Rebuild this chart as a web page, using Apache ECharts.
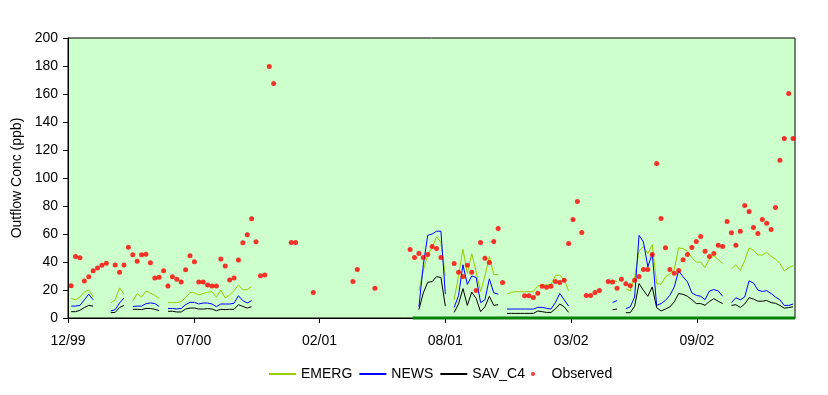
<!DOCTYPE html>
<html>
<head>
<meta charset="utf-8">
<script src="https://cdn.jsdelivr.net/npm/echarts@6/dist/echarts.min.js"></script>
<style>
html,body{margin:0;padding:0;background:#fff;}
#chart{width:828px;height:395px;}
</style>
</head>
<body>
<div id="chart"></div>
<script>
// ---- data (x in weeks from first sample; week 0 = 5 days after the 12/99 axis origin) ----
const xTickLabels = ['12/99', '07/00', '02/01', '08/01', '03/02', '09/02'];
const tickStepDays = 200;
const axisEndDay = 1156;
const firstSampleDay = 5;
const sampleStepDays = 7;

// segments: [start week, values...]
const emergSegments = [
  [0, [14, 13, 15, 18.5, 20, 15]],
  [9, [10.7, 13, 21.5, 17]],
  [14, [12.2, 17.4, 15, 19.3, 17.9, 16.2, 13.8]],
  [22, [11, 11, 11, 11.7, 14.6, 18.1, 18.1, 16.4, 17.6, 18.3, 18.8, 14.7, 20, 14.3, 16.4, 19.5, 23.6, 20.2, 20.2, 22.4]],
  [79, [19.5, 34, 45, 50, 58, 54, 30]],
  [87, [13, 30, 49, 32, 46, 33, 19, 30, 44, 31, 31]],
  [99, [17.1, 18.3, 18.8, 18.8, 18.8, 18.8, 18.8, 23, 23.3, 23.6, 24, 30.2, 30.7, 27.1, 19.5]],
  [123, [27, 26]],
  [126, [21, 19.3, 29, 48, 51, 46, 52.4, 24.6, 24.1, 29.4, 31.3, 34.6, 50.1, 49.6, 47.7, 43.2, 39.9, 39.9, 36, 42.2, 44.4, 41.8, 38.9]],
  [150, [35, 38, 34, 41, 50, 48.5, 45, 45, 47, 44, 42, 39, 33.5, 36, 37.5]]
];
const newsSegments = [
  [0, [8.5, 8.5, 9, 13, 17, 13]],
  [9, [5, 6, 10.7, 14.3]],
  [14, [8.2, 8.5, 8.5, 10.2, 10.8, 10.3, 8.3]],
  [22, [6.8, 6.8, 6.5, 6.8, 9.5, 11.2, 11.2, 10, 10.7, 10.7, 10, 8.1, 10, 10, 10, 10.5, 15.9, 12.4, 10.7, 12.4]],
  [79, [8, 38, 59, 60, 62, 62, 17]],
  [87, [7.5, 16, 38, 24, 30, 29, 11, 13, 28, 18, 17]],
  [99, [6.4, 6.4, 6.4, 6.4, 6.4, 6.4, 6.4, 7.6, 7.6, 6.9, 6.4, 11, 17.5, 13, 8.5]],
  [123, [11.1, 12.4]],
  [126, [6.7, 7.9, 15, 59, 54.4, 36.5, 46, 9, 10.3, 12.6, 16.2, 22.2, 33.7, 29.4, 25.8, 17.9, 16.2, 15.5, 13.1, 19.3, 20.3, 19.3, 15.5]],
  [150, [11, 14.5, 13, 15, 26.5, 25, 20, 19, 19.5, 17.5, 15, 13, 9, 9, 10]]
];
const savSegments = [
  [0, [4.5, 4.5, 5.5, 7.5, 9, 8.5]],
  [9, [3.8, 4, 7.5, 9]],
  [14, [6.2, 6.2, 6, 6.8, 6.8, 6.2, 5.3]],
  [22, [4.8, 4.8, 4.3, 4.3, 6.4, 7.1, 7.1, 6.4, 6.4, 6.7, 6.4, 5.2, 6.2, 6, 6.2, 6.2, 9.5, 8.3, 7.1, 8.1]],
  [79, [6, 18, 25.5, 26, 29.5, 29, 8.5]],
  [87, [4, 10, 21, 9, 18.5, 14, 4.5, 8, 15.5, 9, 9.5]],
  [99, [3.3, 3.3, 3.3, 3.3, 3.3, 3.3, 3.3, 5, 4.5, 4, 4, 6.5, 10, 8, 4]],
  [123, [5.9, 6.4]],
  [126, [3.8, 3.8, 8.4, 24.6, 19.8, 15.5, 22.2, 7.4, 5, 6.4, 7.9, 11.5, 17.4, 16.9, 15.5, 13.1, 10.3, 10.3, 9.1, 11.9, 13.8, 11.9, 10.3]],
  [150, [9, 9.5, 7.5, 10, 14.5, 13.5, 12, 12, 12.5, 11, 10.5, 9, 7, 7.5, 8]]
];
const observedSegments = [
  [0, [23, 44, 43, 26.5, 29.4, 33.7, 35.8, 37.7, 39.1]],
  [10, [37.9, 32.7, 37.9, 50.6, 45.1, 40.6, 45.1, 45.6, 39.4, 28.6, 29.1, 33.7, 22.9, 29.4, 27.7, 25.8, 34.4, 44.4, 40.1, 25.8, 25.8, 23.6, 22.9, 22.9, 42.2, 37.2, 27.2, 28.6, 41.5, 53.7, 59.4, 70.9, 54.4, 30.1, 30.8, 179.7, 167.5]],
  [50, [54, 54]],
  [55, [18.3]],
  [64, [26.1, 34.7]],
  [69, [21.2]],
  [77, [49, 43.3, 46.1, 43.3, 45.4, 51.1, 49.7, 43.3]],
  [87, [39, 32.6, 29.7, 37.6, 32.6, 19.7, 54, 42.6, 39.7, 54.7, 64, 25.4]],
  [103, [15.9, 15.9, 14.7, 17.6, 22.6, 21.9, 22.6, 26.1, 25.4, 26.9, 53.3, 70.4, 83.3, 61.1, 16.1, 16.1, 18.3, 19.7]],
  [122, [26.1, 25.7, 21.2, 27.6, 24.5, 23.1, 26.9, 29.7, 34.7, 34.7, 45.4, 110.4, 71.1, 50.2, 34.7, 31.9, 34, 41.6, 45.4, 50.4, 54.7, 58.3, 47.6, 44, 46.1, 51.9, 51.1, 69, 60.9, 51.9, 61.9, 80.4, 76.1, 64.7, 60.4, 70.4, 67.6, 63.3, 79, 112.6, 128.3, 160.4, 128.3]]
];
// dark green baseline bar along the x axis (days from axis origin)
const baselineSpanDays = [548, 1156];
const baselineValues = [0, 0];

// ---- build ----
function dayOf(week) { return firstSampleDay + sampleStepDays * week; }
function buildLine(segments) {
  const out = [];
  segments.forEach(function (seg, i) {
    if (i > 0) out.push([dayOf(seg[0] - 0.5), '-']);
    seg[1].forEach(function (v, k) { out.push([dayOf(seg[0] + k), v]); });
  });
  return out;
}
function buildPoints(segments) {
  const out = [];
  segments.forEach(function (seg) {
    seg[1].forEach(function (v, k) { out.push([dayOf(seg[0] + k), v]); });
  });
  return out;
}
const tickValues = xTickLabels.map(function (_, i) { return i * tickStepDays; });
const FONT = '"Liberation Sans", Arial, sans-serif';

const chart = echarts.init(document.getElementById('chart'), null, { renderer: 'canvas' });
chart.setOption({
  animation: false,
  backgroundColor: '#ffffff',
  textStyle: { fontFamily: FONT },
  grid: {
    left: 68, right: 33, top: 38, bottom: 77,
    show: true, backgroundColor: '#CCFFCC', borderColor: '#000', borderWidth: 1
  },
  legend: {
    left: 263, top: 362,
    itemWidth: 27, itemHeight: 4, itemGap: 6,
    textStyle: { fontFamily: FONT, fontSize: 14, color: '#000' },
    data: [
      { name: 'EMERG', itemStyle: { opacity: 0 } },
      { name: 'NEWS', itemStyle: { opacity: 0 } },
      { name: 'SAV_C4', itemStyle: { opacity: 0 } },
      { name: 'Observed', icon: 'circle' }
    ]
  },
  xAxis: {
    type: 'value', min: 0, max: axisEndDay, interval: tickStepDays,
    splitLine: { show: false },
    axisLine: { show: true, onZero: false, lineStyle: { color: '#000', width: 1 } },
    axisTick: { show: true, inside: false, length: 5, customValues: tickValues, lineStyle: { color: '#000' } },
    axisLabel: {
      customValues: tickValues, margin: 16,
      fontFamily: FONT, fontSize: 14, color: '#000',
      formatter: function (v) { const i = Math.round(v / tickStepDays); return xTickLabels[i] || ''; }
    }
  },
  yAxis: {
    type: 'value', min: 0, max: 200, interval: 20,
    name: 'Outflow Conc (ppb)', nameLocation: 'middle', nameGap: 35,
    nameTextStyle: { fontFamily: FONT, fontSize: 14, color: '#000' },
    splitLine: { show: false },
    axisLine: { show: true, lineStyle: { color: '#000', width: 1 } },
    axisTick: { show: true, inside: false, length: 5, lineStyle: { color: '#000' } },
    axisLabel: { margin: 10, fontFamily: FONT, fontSize: 14, color: '#000' }
  },
  series: [
    {
      name: 'baseline', type: 'line', data: baselineSpanDays.map(function (d, i) { return [d, baselineValues[i]]; }),
      symbol: 'none', lineStyle: { color: '#008000', width: 3 }, clip: false, z: 1, silent: true
    },
    {
      name: 'EMERG', type: 'line', data: buildLine(emergSegments), symbol: 'none', connectNulls: false,
      lineStyle: { color: '#99CC00', width: 1 }, itemStyle: { color: '#99CC00' }, z: 2
    },
    {
      name: 'NEWS', type: 'line', data: buildLine(newsSegments), symbol: 'none', connectNulls: false,
      lineStyle: { color: '#0000FF', width: 1 }, itemStyle: { color: '#0000FF' }, z: 3
    },
    {
      name: 'SAV_C4', type: 'line', data: buildLine(savSegments), symbol: 'none', connectNulls: false,
      lineStyle: { color: '#000000', width: 1 }, itemStyle: { color: '#000000' }, z: 4
    },
    {
      name: 'Observed', type: 'scatter', data: buildPoints(observedSegments),
      symbol: 'circle', symbolSize: 5, itemStyle: { color: '#FF0000' }, z: 5
    }
  ]
});
</script>
</body>
</html>
